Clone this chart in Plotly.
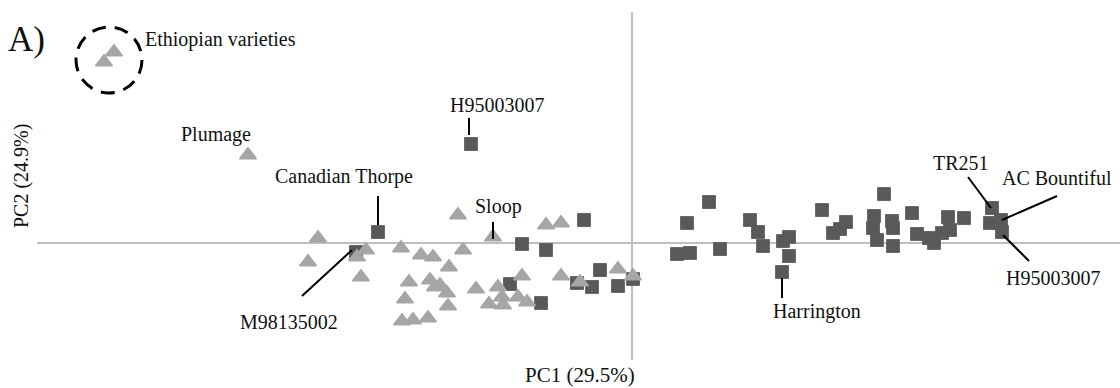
import plotly.graph_objects as go

# ---- Data (PCA scores) ----
# Group 1: triangles (light grey)
tri_pc1 = [-10.36, -10.56, -7.68, -6.28, -6.48, -5.32, -5.50, -5.42, -4.62, -4.22,
           -3.98, -3.38, -3.66, -3.48, -2.78, -4.46, -4.04, -3.94, -3.84, -3.70,
           -4.54, -3.68, -4.60, -4.38, -4.08, -3.12, -2.68, -2.60, -2.86, -2.58,
           -2.28, -2.10, -2.20, -1.72, -1.42, -1.42, -1.04, -0.28, 0.02]
tri_pc2 = [3.82, 3.62, 1.76, 0.10, -0.38, -0.14, -0.28, -0.68, -0.10, -0.24,
           -0.28, -0.14, -0.48, 0.56, 0.12, -0.78, -0.74, -0.88, -0.84, -1.00,
           -1.12, -1.26, -1.56, -1.54, -1.50, -0.92, -0.88, -1.08, -1.22, -1.24,
           -1.08, -1.18, -0.66, 0.36, 0.40, -0.66, -0.78, -0.52, -0.66]

# Group 2: squares (dark grey)
sq_pc1 = [-3.22, -5.08, -5.52, -0.96, -2.20, -1.72, -2.44, -1.82, -0.64, -1.10,
          -0.80, -0.28, 0.02, 1.10, 1.54, 0.90, 1.16, 1.76, 2.36, 2.52,
          2.62, 3.02, 3.14, 3.14, 3.00, 3.80, 4.02, 4.28, 4.16, 5.04,
          4.84, 4.82, 4.90, 5.20, 5.22, 5.22, 5.60, 5.70, 5.94, 6.04,
          6.20, 6.32, 6.36, 6.64, 7.20, 7.16, 7.38, 7.40]
sq_pc2 = [1.98, 0.22, -0.18, 0.46, -0.02, -0.14, -0.82, -1.20, -0.54, -0.80,
          -0.88, -0.86, -0.72, 0.40, 0.82, -0.22, -0.20, -0.12, 0.46, 0.22,
          -0.06, 0.04, 0.12, -0.26, -0.58, 0.66, 0.20, 0.42, 0.28, 0.98,
          0.54, 0.30, 0.06, 0.44, 0.30, -0.06, 0.60, 0.18, 0.10, 0.00,
          0.20, 0.52, 0.26, 0.50, 0.70, 0.40, 0.46, 0.22]

# Labels: (text, group, index, label pixel offset dx, dy, leader from (dx,dy) to (dx,dy) or None)
labels = [
    ("Plumage", "tri", 2, -32, -21, None),
    ("H95003007", "sq", 0, 26, -39, ((-2, -26), (-2, -9))),
    ("Canadian Thorpe", "sq", 1, -34, -56, ((0, -36), (0, -7))),
    ("Sloop", "tri", 14, 5, -31, ((0, -15), (0, 2))),
    ("M98135002", "sq", 2, -67, 70, ((-54, 44), (-4, -2))),
    ("Harrington", "sq", 24, 35, 39, ((0, 6), (0, 26))),
    ("TR251", "sq", 44, -31, -45, ((-24, -31), (-1, 0))),
    ("AC Bountiful", "sq", 46, 56, -42, ((56, -24), (1, 0))),
    ("H95003007", "sq", 47, 51, 46, ((1, 3), (27, 29))),
]

ethiopian_idx = [0, 1]

# ---- Geometry helpers ----
W, H = 1120, 388
PX = 50.0  # pixels per PC unit
X0, Y0 = 632, 243  # origin pixel
xr = [(0 - X0) / PX, (W - X0) / PX]
yr = [(Y0 - H) / PX, Y0 / PX]

def pt(group, i):
    if group == "tri":
        return tri_pc1[i], tri_pc2[i]
    return sq_pc1[i], sq_pc2[i]

FONT = "Liberation Serif, Times New Roman, DejaVu Serif, serif"
TXT = "#111111"
TRI_COL = "#a6a6a6"
SQ_COL = "#595959"
AX_COL = "#bfbfbf"

fig = go.Figure()
fig.add_trace(go.Scatter(x=sq_pc1, y=sq_pc2, mode="markers",
                         marker=dict(symbol="square", size=13, color=SQ_COL,
                                     line=dict(color=SQ_COL, width=0.8)),
                         hoverinfo="skip", showlegend=False))
fig.add_trace(go.Scatter(x=tri_pc1, y=tri_pc2, mode="markers",
                         marker=dict(symbol="triangle-up", size=14.5, color=TRI_COL,
                                     line=dict(color=TRI_COL, width=1.6)),
                         hoverinfo="skip", showlegend=False))

shapes = [
    dict(type="line", xref="x", yref="y", x0=0, x1=0,
         y0=(Y0 - 12) / PX, y1=(Y0 - 360) / PX, line=dict(color=AX_COL, width=2), layer="below"),
    dict(type="line", xref="x", yref="y", y0=0, y1=0,
         x0=(37 - X0) / PX, x1=xr[1], line=dict(color=AX_COL, width=2), layer="below"),
]

annotations = []
for text, g, i, ldx, ldy, leader in labels:
    x, y = pt(g, i)
    annotations.append(dict(x=x, y=y, xref="x", yref="y", text=text, showarrow=False,
                            xshift=ldx, yshift=-ldy, font=dict(family=FONT, size=20, color=TXT),
                            xanchor="center", yanchor="middle"))
    if leader:
        (a, b), (c, d) = leader
        shapes.append(dict(type="line", xref="x", yref="y",
                           x0=x + a / PX, y0=y - b / PX, x1=x + c / PX, y1=y - d / PX,
                           line=dict(color="black", width=2), layer="above"))

# Ethiopian varieties circle
ex = sum(tri_pc1[i] for i in ethiopian_idx) / len(ethiopian_idx)
ey = sum(tri_pc2[i] for i in ethiopian_idx) / len(ethiopian_idx)
ecy = ey - 3 / PX
R = 33 / PX
shapes.append(dict(type="circle", xref="x", yref="y", x0=ex - R, x1=ex + R,
                   y0=ecy - R, y1=ecy + R,
                   line=dict(color="black", width=3, dash="14px,9px"), layer="above"))
annotations.append(dict(x=ex + R, y=ey, xref="x", yref="y", text="Ethiopian varieties",
                        showarrow=False, xshift=1, yshift=18, xanchor="left", yanchor="middle",
                        font=dict(family=FONT, size=20, color=TXT)))

# Panel letter and axis titles
annotations.append(dict(x=6 / W, y=(H - 40) / H, xref="paper", yref="paper", text="A)",
                        showarrow=False, xanchor="left", yanchor="middle",
                        font=dict(family=FONT, size=35, color=TXT)))
annotations.append(dict(x=580 / W, y=(H - 375) / H, xref="paper", yref="paper", text="PC1 (29.5%)",
                        showarrow=False, xanchor="center", yanchor="middle",
                        font=dict(family=FONT, size=21, color=TXT)))
annotations.append(dict(x=21 / W, y=(H - 176) / H, xref="paper", yref="paper", text="PC2 (24.9%)",
                        showarrow=False, xanchor="center", yanchor="middle", textangle=-90,
                        font=dict(family=FONT, size=20, color=TXT)))

fig.update_layout(
    width=W, height=H, margin=dict(l=0, r=0, t=0, b=0),
    paper_bgcolor="white", plot_bgcolor="white",
    xaxis=dict(range=xr, visible=False, fixedrange=True),
    yaxis=dict(range=yr, visible=False, fixedrange=True),
    shapes=shapes, annotations=annotations,
)
fig.write_html("out.html")
